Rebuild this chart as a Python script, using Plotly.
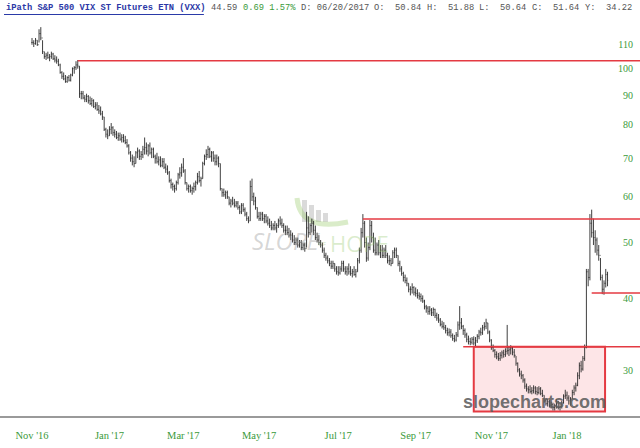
import plotly.graph_objects as go
import pandas as pd
import math

# ---- data ----
highs = [113, 112, 113, 112, 117, 118, 112, 107, 106.5, 107, 106, 107, 106.5, 105.5, 105, 104, 102, 99, 98.5, 97.5,
         97, 97.5, 98, 100.5, 101, 103, 103.5, 101, 91.5, 91.5, 90, 90.5, 90, 89.5, 89, 88.5, 87.5, 87.5, 86.5, 86,
         84.5, 82.5, 79, 78.5, 79.5, 80.5, 79.5, 78.5, 78, 77.5, 77.5, 77, 77, 76.5, 75.5, 74, 72, 71, 70.5, 72,
         73, 72.5, 72, 73.5, 76, 74.5, 74, 74.5, 73, 73, 71, 71.5, 70.5, 70.5, 70, 70, 68.5, 68, 66.5, 64.5,
         63.5, 63, 64, 66, 67.5, 68.5, 70, 67, 63.5, 63, 63, 62.5, 63.5, 64, 66, 66.5, 65, 69, 71, 72.5,
         73.5, 73, 72, 72, 71, 71, 70.5, 68.5, 62, 62, 61.5, 61.5, 60, 59.5, 60, 59.5, 59, 59, 58, 58.5,
         58.5, 57.5, 56.5, 55.5, 64, 64.5, 61, 60, 57.5, 56.5, 56.5, 56.5, 56, 56, 55.5, 55, 54.5, 54, 54.5, 54,
         55, 55.5, 55, 54, 53.5, 53.5, 53, 52.5, 52, 51.5, 51, 51, 50.5, 50.5, 50, 50, 56.5, 55.5, 54, 55,
         54.5, 53.5, 52, 51.5, 50.5, 50, 49, 48, 47.5, 47, 46.5, 46.5, 46, 45.5, 45.5, 45.5, 46.5, 46.5, 45.5, 45.5,
         46, 45.5, 45, 45.5, 45, 47, 49, 53, 56, 54.5, 51, 50, 54.7, 54.5, 52, 51, 50, 50.5, 49.5, 49.5,
         49, 49.5, 48, 47.5, 47, 48.5, 49, 49, 47.5, 46.5, 45.5, 44.5, 44, 43.5, 42.5, 42, 42.5, 42, 41.8, 41.5,
         41, 40.8, 40.5, 39.8, 39, 38.8, 38.8, 38.5, 38.6, 38.4, 37.8, 37.6, 37, 36.6, 36.4, 36, 35.6, 35.5, 35.4, 34.8,
         34.6, 35, 36.5, 38.8, 37, 36, 35.5, 34.9, 34.5, 34.2, 34.3, 34.4, 34.3, 34.7, 35.3, 35.6, 36, 36.4, 36.9, 36.3,
         35.2, 34, 33.3, 32.7, 32.4, 32.2, 32.3, 32.5, 32.6, 32.8, 36, 33, 33.2, 33, 32.7, 31.8, 31, 30.3, 30, 29.6,
         29.1, 28.5, 28.2, 28.3, 28.1, 28.3, 28.2, 28.1, 28.2, 28.1, 27.8, 27.2, 26.9, 26.8, 26.7, 26.5, 26.4, 26.3, 26.8, 26.6,
         26.3, 26.6, 27.3, 27.8, 27.6, 27.2, 27, 27.8, 28.3, 28.6, 29.8, 31, 31.2, 31.8, 33.3, 45, 45, 56, 57, 55,
         52.5, 51, 49.5, 47, 44, 43, 45, 44.5]
lows = [110, 109, 110, 109.5, 111, 112, 106, 104, 103.5, 104, 103, 104, 103.5, 102.5, 102, 101, 98, 96, 95.5, 94.5,
        94.5, 95, 95, 97, 98, 99.5, 100, 89, 88.5, 88.5, 87.5, 87.5, 87, 86.5, 86, 85.5, 85, 84.5, 83.5, 83,
        81.5, 78, 76, 75.5, 76.5, 77, 76.5, 76, 75.5, 75, 75, 74.5, 74.5, 74, 73, 71, 69, 68, 67.5, 68.5,
        70, 69.5, 69.5, 70, 71, 71, 70.5, 71, 70, 70, 68.5, 68.5, 68, 67.5, 67.5, 67, 66, 65.5, 63.5, 62,
        61.5, 61, 61.5, 63, 64.5, 65, 66, 63, 61.5, 61, 61, 60.5, 61, 61.5, 63, 63.5, 62.5, 64.5, 68, 69.5,
        70, 70, 69, 69, 68, 68, 67.5, 61.5, 60, 60, 59.5, 59.5, 58, 57.5, 58, 57.5, 57.5, 57, 56, 56,
        56.5, 55.5, 54.5, 54, 54.5, 59, 58, 57, 55, 54.5, 54.5, 54.5, 54, 54, 53.5, 53, 52.5, 52.5, 52.5, 52,
        53, 53.5, 53, 52, 51.5, 51.5, 51, 50.5, 50, 49.5, 49.5, 49, 49, 48.5, 48.5, 48.2, 49, 51, 51.5, 52,
        51.5, 50.5, 50, 49.5, 49, 48, 47, 46.5, 46, 45.5, 45, 45, 44.5, 44, 43.8, 44, 44.5, 44.5, 44, 43.8,
        44, 43.8, 43.5, 43.8, 43.5, 44.5, 46, 48, 51, 49, 46.3, 46.5, 48.5, 50, 48, 47.5, 47.5, 47.5, 47, 47,
        47, 47, 46, 45.7, 45.5, 46, 47, 47, 45.5, 44.5, 43.8, 42.8, 42.5, 42, 41, 40.5, 40.8, 40.5, 40.3, 40,
        39.8, 39.5, 39.3, 38.3, 37.8, 37.5, 37.5, 37.3, 37.3, 37, 36.6, 36.3, 35.8, 35.5, 35.3, 34.8, 34.5, 34.4, 34.2, 33.8,
        33.6, 33.7, 34.3, 35.3, 35.4, 34.6, 34.2, 33.6, 33.3, 33.2, 33.3, 33.2, 33, 33.5, 34, 34.5, 34.6, 35.2, 35.4, 34.7,
        33.6, 32.6, 32.3, 31.6, 31.4, 31.2, 31.2, 31.5, 31.6, 31.7, 32, 31.8, 32, 31.9, 31.6, 30.6, 29.8, 29.3, 29, 28.6,
        27.9, 27.6, 27.4, 27.4, 27.3, 27.4, 27.3, 27.2, 27.3, 27.2, 27, 26.4, 26.1, 26, 25.9, 25.8, 25.6, 25.6, 25.8, 25.7,
        25.6, 25.8, 26.3, 26.8, 26.6, 26.2, 26.1, 26.8, 27.2, 27.6, 28.2, 29, 29.8, 30, 31.2, 32.8, 42, 43, 51, 49.5,
        48, 47.5, 46.5, 43, 40.7, 40.6, 41.8, 42]
closes = [111, 110.5, 112, 110, 115, 113, 107, 105, 105.5, 104.5, 105, 106, 104, 103.5, 103, 101.5, 98.5, 97, 96, 95,
          96.5, 95.5, 97.5, 100, 100.5, 101.5, 101, 90.5, 90.5, 89, 88.5, 89.5, 88, 87, 88, 86, 86.5, 85, 84.5, 83.5,
          82.5, 78.5, 77, 76.5, 78.5, 79, 77.5, 77, 76, 76.5, 75.5, 76, 75, 74.5, 73.5, 71.5, 70, 69, 68.5, 71.5,
          72, 70.5, 71, 72.5, 73, 72, 73.5, 71.5, 72.5, 70.5, 70, 69, 69.5, 68, 69, 67.5, 67, 66, 64, 63,
          62.5, 62, 63.5, 65.5, 66, 67.5, 66.5, 63.5, 62, 62.5, 61.5, 62, 62.5, 63.5, 65, 64, 64.5, 68.5, 70.5, 71,
          72.5, 70.5, 71.5, 70, 69, 70, 68.5, 62, 61, 60.5, 61, 60, 58.5, 59, 58.5, 58, 58.5, 57.5, 56.5, 58,
          57, 56, 55, 54.5, 62.5, 60, 59, 57.5, 55.5, 55, 56, 55, 55.5, 54.5, 54, 53.5, 53, 53.5, 53, 53.5,
          54.5, 54, 53.5, 52.5, 52.5, 52, 51.5, 51.5, 50.5, 50, 50.5, 49.5, 50, 49, 49.5, 48.8, 53, 52, 53.5, 54,
          52.5, 51, 50.5, 50, 49.5, 48.5, 47.5, 47, 46.5, 46, 45.5, 46, 45, 44.5, 44.3, 45, 46, 45, 44.5, 45,
          44.5, 44.2, 44.5, 44, 44.5, 46.5, 48.5, 52, 54, 50, 47, 49, 53.5, 51, 48.5, 48, 49.5, 48, 48.5, 47.5,
          48.5, 47.5, 46.5, 46.5, 46, 48, 48.5, 47.5, 46, 45, 44.2, 43.5, 43, 42.5, 41.5, 41.5, 41.8, 41, 40.8, 40.5,
          40.3, 40, 39.6, 38.7, 38.5, 38, 38.2, 37.8, 38.3, 37.4, 37, 36.7, 36.1, 35.8, 35.6, 35.2, 34.9, 35, 34.5, 34.1,
          33.9, 34.6, 36, 36.3, 35.8, 35.2, 34.6, 34, 33.7, 33.6, 34, 33.5, 33.8, 34.4, 35, 34.9, 35.6, 35.8, 36.3, 35,
          33.9, 32.9, 32.5, 32, 31.7, 31.5, 31.9, 32.2, 32, 32.4, 32.5, 32.6, 32.8, 32.3, 31.9, 30.9, 30.1, 29.6, 29.4, 28.9,
          28.2, 27.9, 27.8, 27.6, 27.7, 28, 27.6, 27.5, 27.9, 27.4, 27.2, 26.6, 26.3, 26.5, 26.1, 26.2, 25.9, 26.1, 26.5, 25.9,
          26, 26.4, 27.1, 27.2, 26.9, 26.6, 26.8, 27.5, 28, 28.3, 29.4, 30.6, 30.2, 31.5, 32.9, 44.5, 43.5, 54, 52, 51,
          50.5, 48.5, 47.5, 43.5, 41.5, 42.5, 44, 43]
opens = [closes[0]] + closes[:-1]

dates = [d.strftime("%Y-%m-%d") for d in pd.bdate_range("2016-11-01", periods=len(closes))]

month_ticks = ["2016-11-01", "2017-01-02", "2017-03-01", "2017-05-01", "2017-07-03", "2017-09-01", "2017-11-01", "2018-01-01"]
month_labels = ["Nov '16", "Jan '17", "Mar '17", "May '17", "Jul '17", "Sep '17", "Nov '17", "Jan '18"]
price_ticks = [30, 40, 50, 60, 70, 80, 90, 100, 110]

# horizontal red levels: (price, start date)
levels = [(103.2, "2016-12-07"), (54.9, "2017-07-21"), (40.9, "2018-01-19"), (33.0, "2017-10-10")]
box_start, box_end, box_low, box_high = "2017-10-18", 325.6, 25.5, 33.0

# header tokens: (text, colour, bold, character column)
header_tokens = [
    ("iPath S&amp;P 500 VIX ST Futures ETN (VXX)", "#2b37a6", True, 0),
    ("44.59", "#555555", False, 39),
    ("0.69 1.57%", "#3a9a3a", False, 45),
    ("D: 06/20/2017", "#555555", False, 56),
    ("O:", "#555555", False, 70), ("50.84", "#555555", False, 74),
    ("H:", "#555555", False, 80), ("51.88", "#555555", False, 84),
    ("L:", "#555555", False, 90), ("50.64", "#555555", False, 94),
    ("C:", "#555555", False, 100), ("51.64", "#555555", False, 104),
    ("Y:", "#555555", False, 110), ("34.22", "#555555", False, 114),
]

W, H = 640, 448
ML, MR, MT, MB = 0, 0, 20, 32
PH = H - MT - MB

def py(p):  # pixel y -> paper y
    return (H - MB - p) / PH

def px(p):
    return p / W

fig = go.Figure()
fig.add_trace(go.Ohlc(
    x=dates, open=opens, high=highs, low=lows, close=closes,
    increasing=dict(line=dict(color="#2a2a2a", width=0.9)),
    decreasing=dict(line=dict(color="#2a2a2a", width=0.9)),
    tickwidth=0.35, hoverinfo="skip", showlegend=False,
))

red = "rgb(228,58,66)"
shapes = []
for price, start in levels:
    shapes.append(dict(type="line", xref="x", yref="y", x0=dates.index(start), x1=400,
                       y0=price, y1=price, line=dict(color=red, width=1.5), layer="above"))
shapes.append(dict(type="rect", xref="x", yref="y", x0=dates.index(box_start), x1=box_end,
                   y0=box_low, y1=box_high, line=dict(color=red, width=2),
                   fillcolor="rgba(235,40,60,0.12)", layer="below"))

# watermark (Slope of Hope logo)
bar_specs = [(302, 307, 200), (309, 314, 205), (316, 321, 210), (323, 328, 213)]
for x0, x1, top in bar_specs:
    shapes.append(dict(type="rect", xref="paper", yref="paper", x0=px(x0), x1=px(x1), y0=py(222), y1=py(top),
                       fillcolor="rgba(150,150,150,0.35)", line=dict(width=0), layer="below"))
shapes.append(dict(type="path", xref="paper", yref="paper",
                   path=f"M {px(297)},{py(198)} Q {px(300)},{py(232)} {px(348)},{py(222)}",
                   line=dict(color="rgba(150,200,100,0.35)", width=5), layer="below"))

# header
CW = 626 / 119.0           # character width in px
HFS = CW / 0.6             # monospace font size
shapes.append(dict(type="line", xref="paper", yref="paper", x0=px(4), x1=px(4 + 38 * CW), y0=py(14.5), y1=py(14.5),
                   line=dict(color="#2a3aa8", width=1)))

annotations = []
for text, color, bold, col in header_tokens:
    annotations.append(dict(xref="paper", yref="paper", x=px(4 + col * CW), y=py(8), xanchor="left",
                            yanchor="middle", text=f"<b>{text}</b>" if bold else text, showarrow=False,
                            font=dict(family="Liberation Mono", size=HFS, color=color)))

annotations += [
    dict(xref="paper", yref="paper", x=px(286), y=py(240), xanchor="center", yanchor="middle",
         text="<i>SLOPE</i>", showarrow=False, font=dict(family="Open Sans", size=24, color="rgba(150,150,150,0.4)")),
    dict(xref="paper", yref="paper", x=px(322), y=py(244), xanchor="center", yanchor="middle",
         text="OF", showarrow=False, font=dict(family="Open Sans", size=6, color="rgba(150,190,120,0.5)")),
    dict(xref="paper", yref="paper", x=px(359), y=py(243), xanchor="center", yanchor="middle",
         text="HOPE", showarrow=False, font=dict(family="Open Sans", size=22, color="rgba(150,200,110,0.35)")),
    dict(xref="paper", yref="paper", x=px(534), y=py(402), xanchor="center", yanchor="middle",
         text="<b>slopecharts.com</b>", showarrow=False,
         font=dict(family="Liberation Sans", size=18, color="rgba(95,95,95,0.9)")),
]

fig.update_layout(
    width=W, height=H, margin=dict(l=ML, r=MR, t=MT, b=MB),
    paper_bgcolor="white", plot_bgcolor="white",
    shapes=shapes, annotations=annotations, showlegend=False,
    xaxis=dict(type="category", range=[-32 / 1.76, (640 - 32) / 1.76], rangeslider=dict(visible=False),
               tickmode="array", tickvals=month_ticks, ticktext=month_labels, showgrid=False, zeroline=False,
               showline=True, linecolor="#9a9a9a", linewidth=2, ticks="", ticklabelstandoff=8,
               tickfont=dict(family="Liberation Serif", size=10.5, color="#3a9a3a")),
    yaxis=dict(type="log", range=[math.log10(25.04), math.log10(121.4)], side="right",
               tickmode="array", tickvals=price_ticks, ticktext=[str(v) for v in price_ticks],
               ticklabelposition="inside", ticklabelstandoff=4, showgrid=False, zeroline=False, showline=False,
               ticks="", tickfont=dict(family="Liberation Serif", size=10, color="#3a9a3a")),
)

fig.write_html("out.html", config={"displayModeBar": False},
               post_script="document.body.style.margin='0px';document.body.style.padding='0px';"
                           "document.body.style.overflow='hidden';")
